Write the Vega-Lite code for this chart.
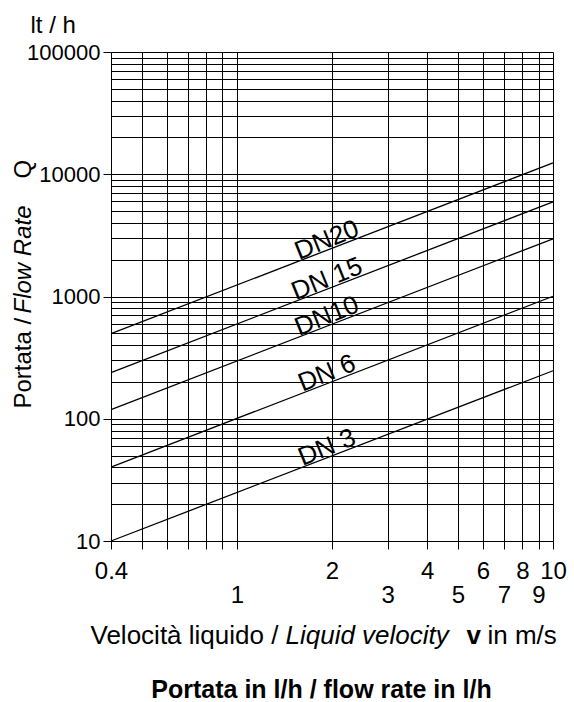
{
  "$schema": "https://vega.github.io/schema/vega-lite/v6.json",
  "width": 442,
  "height": 489,
  "autosize": {"type": "none"},
  "padding": {"left": 111, "top": 52, "right": 21, "bottom": 161},
  "background": "white",
  "config": {
    "font": "Liberation Sans",
    "view": {"stroke": null},
    "axis": {
      "labelColor": "black",
      "titleColor": "black",
      "tickColor": "black",
      "domainColor": "black",
      "gridColor": "black",
      "gridOpacity": 1,
      "gridWidth": 1,
      "domainWidth": 1,
      "tickWidth": 1,
      "titleFontWeight": "normal",
      "labelFont": "Liberation Sans",
      "titleFont": "Liberation Sans"
    }
  },
  "datasets": {
    "lines": [
      {"dn": "DN20", "v": 0.4, "q": 496},
      {"dn": "DN20", "v": 10, "q": 12400},
      {"dn": "DN15", "v": 0.4, "q": 238},
      {"dn": "DN15", "v": 10, "q": 5950},
      {"dn": "DN10", "v": 0.4, "q": 118.6},
      {"dn": "DN10", "v": 10, "q": 2965},
      {"dn": "DN6", "v": 0.4, "q": 40.2},
      {"dn": "DN6", "v": 10, "q": 1005},
      {"dn": "DN3", "v": 0.4, "q": 10},
      {"dn": "DN3", "v": 10, "q": 247}
    ],
    "labels": [
      {"label": "DN20", "v": 1.97, "q": 2520},
      {"label": "DN 15", "v": 1.97, "q": 1210},
      {"label": "DN10", "v": 1.97, "q": 602},
      {"label": "DN 6", "v": 1.97, "q": 205},
      {"label": "DN 3", "v": 1.97, "q": 50.5}
    ]
  },
  "resolve": {"axis": {"x": "independent", "y": "independent"}},
  "layer": [
    {
      "data": {"name": "lines"},
      "mark": {"type": "line", "color": "black", "strokeWidth": 1.3},
      "encoding": {
        "x": {
          "field": "v", "type": "quantitative",
          "scale": {"type": "log", "domain": [0.4, 10], "nice": false},
          "axis": {
            "orient": "bottom",
            "values": [0.4, 0.5, 0.6, 0.7, 0.8, 0.9, 1, 2, 3, 4, 5, 6, 7, 8, 9, 10],
            "grid": true,
            "tickSize": 8,
            "labelExpr": "indexof([0.4, 2, 4, 6, 8, 10], datum.value) >= 0 ? format(datum.value, '~g') : ''",
            "labelFontSize": 24,
            "labelPadding": 10,
            "labelFlush": false,
            "labelOverlap": false,
            "labelBound": false,
            "title": "Velocità liquido /",
            "titleFontSize": 26,
            "titleX": -21,
            "titleY": 102,
            "titleAlign": "left",
            "titleAnchor": "start",
            "titleBaseline": "alphabetic"
          }
        },
        "y": {
          "field": "q", "type": "quantitative",
          "scale": {"type": "log", "domain": [10, 100000], "nice": false},
          "axis": {
            "orient": "left",
            "values": [10, 20, 30, 40, 50, 60, 70, 80, 90, 100, 200, 300, 400, 500, 600, 700, 800, 900, 1000, 2000, 3000, 4000, 5000, 6000, 7000, 8000, 9000, 10000, 20000, 30000, 40000, 50000, 60000, 70000, 80000, 90000, 100000],
            "grid": true,
            "tickSize": 8,
            "tickOpacity": {"condition": {"test": "indexof([10, 100, 1000, 10000, 100000], datum.value) >= 0", "value": 1}, "value": 0},
            "labelExpr": "indexof([10, 100, 1000, 10000, 100000], datum.value) >= 0 ? format(datum.value, 'd') : ''",
            "labelFont": "Liberation Sans Narrow, Liberation Sans",
            "labelFontSize": 22,
            "labelPadding": 3,
            "labelFlush": false,
            "labelOverlap": false,
            "labelBound": false,
            "title": "Portata /",
            "titleFontSize": 24,
            "titleAngle": -90,
            "titleX": -81,
            "titleY": 356,
            "titleAlign": "left",
            "titleAnchor": "start",
            "titleBaseline": "alphabetic"
          }
        },
        "detail": {"field": "dn"}
      }
    },
    {
      "data": {"name": "labels"},
      "mark": {"type": "text", "angle": -22, "fontSize": 26, "align": "center", "baseline": "alphabetic", "color": "black", "font": "Liberation Sans"},
      "encoding": {
        "x": {
          "field": "v", "type": "quantitative",
          "scale": {"type": "log", "domain": [0.4, 10], "nice": false},
          "axis": {
            "orient": "bottom",
            "values": [1, 3, 5, 7, 9],
            "grid": false,
            "ticks": false,
            "domain": false,
            "format": "~g",
            "labelFontSize": 24,
            "labelPadding": 42,
            "labelFlush": false,
            "labelOverlap": false,
            "labelBound": false,
            "title": "Liquid velocity",
            "titleFontStyle": "italic",
            "titleFontSize": 26,
            "titleX": 174,
            "titleY": 102,
            "titleAlign": "left",
            "titleAnchor": "start",
            "titleBaseline": "alphabetic"
          }
        },
        "y": {
          "field": "q", "type": "quantitative",
          "scale": {"type": "log", "domain": [10, 100000], "nice": false},
          "axis": {
            "orient": "left",
            "grid": false, "ticks": false, "domain": false, "labels": false,
            "title": "Flow Rate",
            "titleFontStyle": "italic",
            "titleFontSize": 24,
            "titleAngle": -90,
            "titleX": -81,
            "titleY": 261,
            "titleAlign": "left",
            "titleAnchor": "start",
            "titleBaseline": "alphabetic"
          }
        },
        "text": {"field": "label"}
      }
    },
    {
      "data": {"name": "labels"},
      "mark": {"type": "point", "opacity": 0},
      "encoding": {
        "x": {
          "field": "v", "type": "quantitative",
          "scale": {"type": "log", "domain": [0.4, 10], "nice": false},
          "axis": {
            "orient": "bottom",
            "grid": false, "ticks": false, "domain": false, "labels": false,
            "title": "v",
            "titleFontWeight": "bold",
            "titleFontSize": 26,
            "titleX": 355,
            "titleY": 102,
            "titleAlign": "left",
            "titleAnchor": "start",
            "titleBaseline": "alphabetic"
          }
        },
        "y": {
          "field": "q", "type": "quantitative",
          "scale": {"type": "log", "domain": [10, 100000], "nice": false},
          "axis": {
            "orient": "left",
            "grid": false, "ticks": false, "domain": false, "labels": false,
            "title": "Q",
            "titleFontSize": 24,
            "titleAngle": -90,
            "titleX": -81,
            "titleY": 126,
            "titleAlign": "left",
            "titleAnchor": "start",
            "titleBaseline": "alphabetic"
          }
        }
      }
    },
    {
      "data": {"name": "labels"},
      "mark": {"type": "point", "opacity": 0},
      "encoding": {
        "x": {
          "field": "v", "type": "quantitative",
          "scale": {"type": "log", "domain": [0.4, 10], "nice": false},
          "axis": {
            "orient": "bottom",
            "grid": false, "ticks": false, "domain": false, "labels": false,
            "title": "in m/s",
            "titleFontSize": 26,
            "titleX": 376,
            "titleY": 102,
            "titleAlign": "left",
            "titleAnchor": "start",
            "titleBaseline": "alphabetic"
          }
        },
        "y": {
          "field": "q", "type": "quantitative",
          "scale": {"type": "log", "domain": [10, 100000], "nice": false},
          "axis": {
            "orient": "left",
            "grid": false, "ticks": false, "domain": false, "labels": false,
            "title": "lt / h",
            "titleFontSize": 24,
            "titleAngle": 0,
            "titleX": -81,
            "titleY": -20,
            "titleAlign": "left",
            "titleAnchor": "start",
            "titleBaseline": "alphabetic"
          }
        }
      }
    },
    {
      "data": {"name": "labels"},
      "mark": {"type": "point", "opacity": 0},
      "encoding": {
        "x": {
          "field": "v", "type": "quantitative",
          "scale": {"type": "log", "domain": [0.4, 10], "nice": false},
          "axis": {
            "orient": "bottom",
            "grid": false, "ticks": false, "domain": false, "labels": false,
            "title": "Portata in l/h / flow rate in l/h",
            "titleFontWeight": "bold",
            "titleFontSize": 25,
            "titleX": 210,
            "titleY": 156,
            "titleAlign": "center",
            "titleAnchor": "middle",
            "titleBaseline": "alphabetic"
          }
        },
        "y": {
          "field": "q", "type": "quantitative",
          "scale": {"type": "log", "domain": [10, 100000], "nice": false},
          "axis": null
        }
      }
    }
  ]
}
